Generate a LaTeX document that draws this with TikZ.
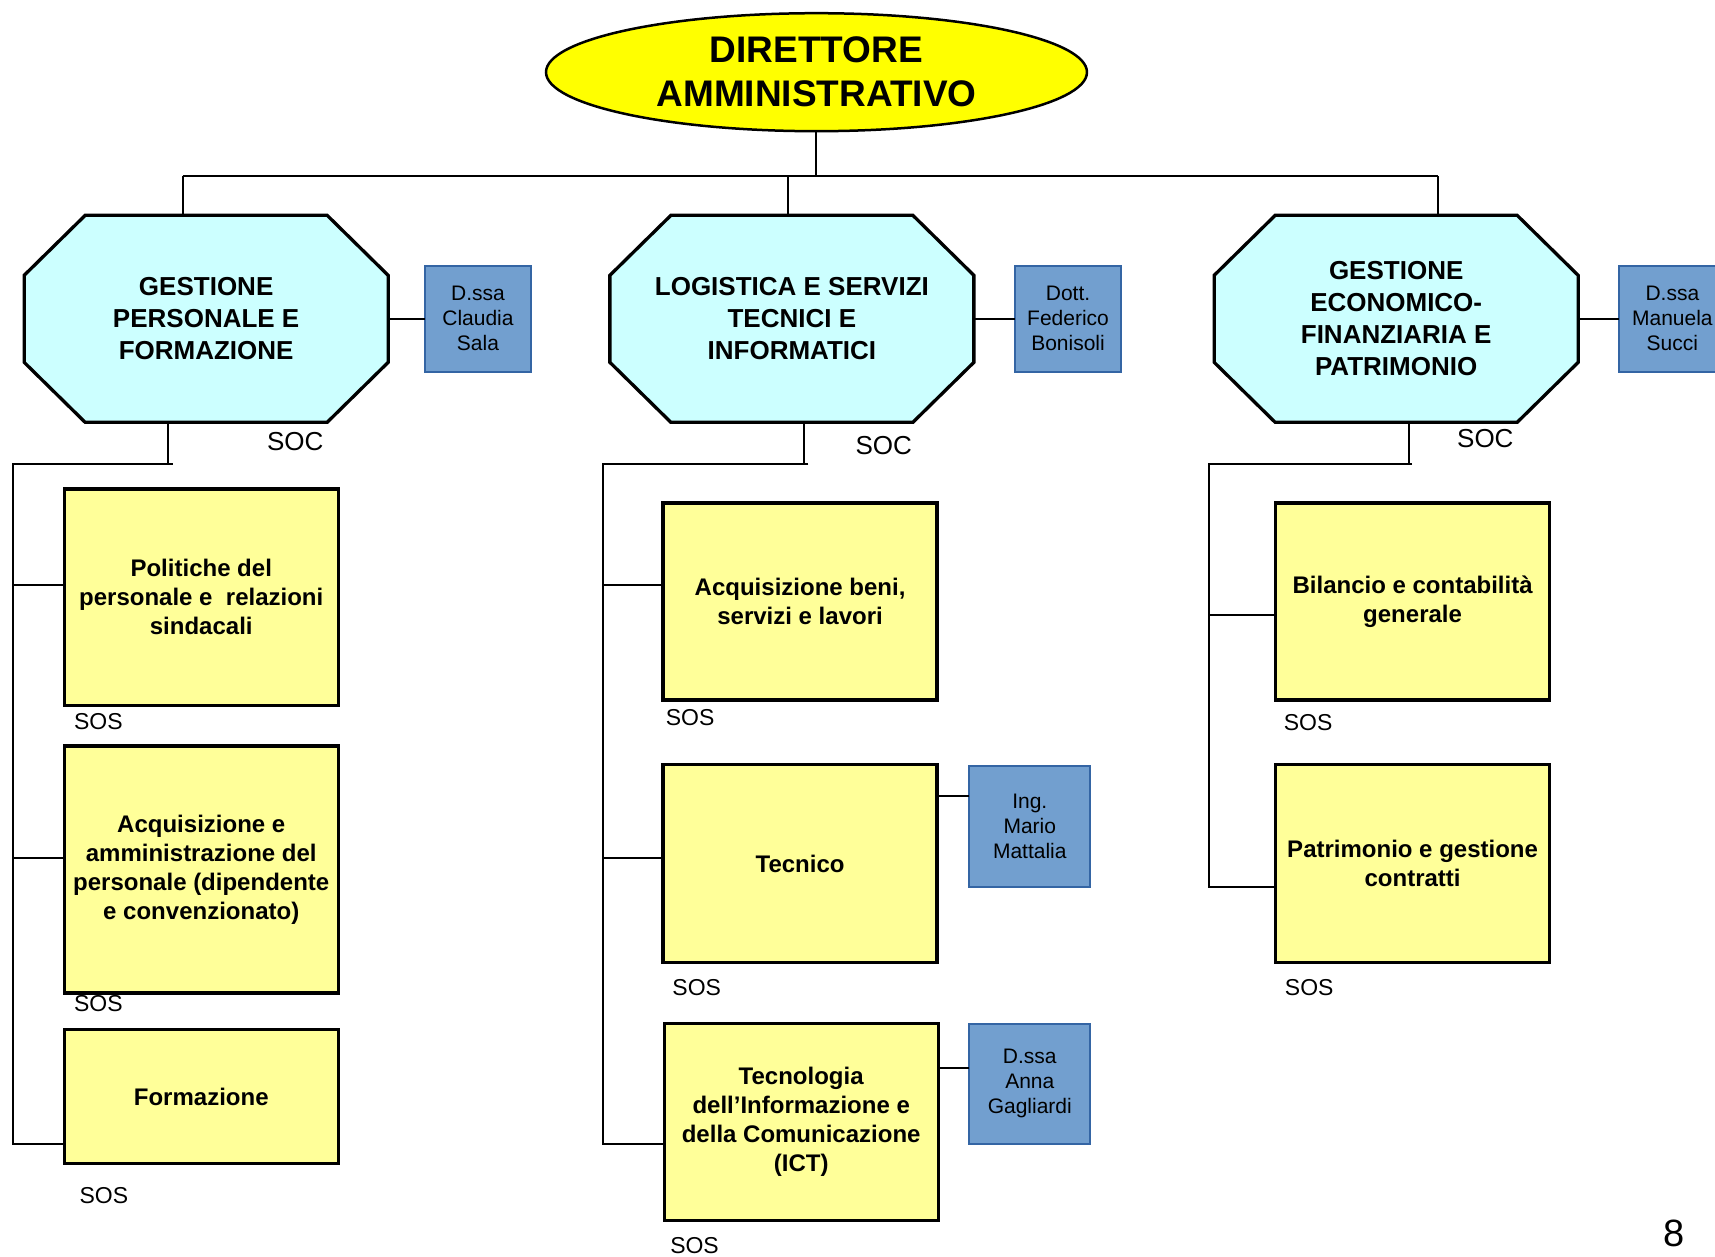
\documentclass[tikz,border=0pt]{standalone}
\usepackage{fontspec}
\setmainfont{Liberation Sans}
\usetikzlibrary{shapes.geometric,calc,backgrounds}
\definecolor{ellc}{HTML}{FFFF00}
\definecolor{octc}{HTML}{CCFFFF}
\definecolor{yelc}{HTML}{FFFF99}
\definecolor{bfill}{HTML}{729FCF}
\definecolor{bdraw}{HTML}{3465A4}
\newcommand\octpath[1]{%
  \draw[octo] ([xshift=61pt]#1.north west) -- ([xshift=-61pt]#1.north east)
   -- ([yshift=-60pt]#1.north east) -- ([yshift=60pt]#1.south east)
   -- ([xshift=-61pt]#1.south east) -- ([xshift=61pt]#1.south west)
   -- ([yshift=60pt]#1.south west) -- ([yshift=-60pt]#1.north west) -- cycle;}
\begin{document}
\begin{tikzpicture}[x=1.0938pt,y=-1.0938pt,
  conn/.style={line width=2pt},
  octo/.style={draw=black,fill=octc,line width=3.3pt,line join=miter},
  octn/.style={rectangle,inner sep=0pt,outer sep=0pt,align=center,
    minimum width=364pt,minimum height=207pt,
    font=\fontsize{26}{32}\selectfont\bfseries},
  ybox/.style={rectangle,draw=black,fill=yelc,line width=3.3pt,inner sep=0pt,
    outer sep=0pt,align=center,minimum width=274pt,
    font=\fontsize{24}{29}\selectfont\bfseries},
  pbox/.style={rectangle,draw=bdraw,fill=bfill,line width=2pt,inner sep=0pt,
    outer sep=0pt,align=center,font=\fontsize{21}{25}\selectfont},
  lab/.style={inner sep=0pt,font=\fontsize{23}{26}\selectfont},
  socl/.style={inner sep=0pt,font=\fontsize{26}{30}\selectfont}]
\useasboundingbox (0,0) rectangle (1568,1149);
\clip (0,0) rectangle (1568,1149);

% top
\node[ellipse,draw=black,fill=ellc,line width=2.5pt,inner sep=0pt,outer sep=0pt,
  minimum width=541pt,minimum height=118pt,align=center,
  font=\fontsize{37}{44}\selectfont\bfseries] (dir) at (746.5,66) {DIRETTORE\\AMMINISTRATIVO};

% octagons
\node[octn] (o1) at (188.5,291.5) {GESTIONE\\PERSONALE E\\FORMAZIONE};
\node[octn] (o2) at (724,291.5) {LOGISTICA E SERVIZI\\TECNICI E\\INFORMATICI};
\node[octn] (o3) at (1276.5,291.5) {GESTIONE\\ECONOMICO-\\FINANZIARIA E\\PATRIMONIO};
\begin{scope}[on background layer]
\fill[white] (0,0) rectangle (1568,1149);
\octpath{o1}\octpath{o2}\octpath{o3}
\end{scope}

% bus
\coordinate (busL) at (167,161);
\coordinate (busM) at (720,161);
\coordinate (busR) at (1315,161);
\draw[conn] (dir.south) -- (dir.south |- busL);
\draw[conn] (busL) -- (busR);
\draw[conn] (busL) -- (busL |- o1.north);
\draw[conn] (busM) -- (busM |- o2.north);
\draw[conn] (busR) -- (busR |- o3.north);

% people boxes
\node[pbox,minimum width=106pt,minimum height=106pt] (b1) at (437,291.5) {D.ssa\\Claudia\\Sala};
\node[pbox,minimum width=106pt,minimum height=106pt] (b2) at (976.5,291.5) {Dott.\\Federico\\Bonisoli};
\node[pbox,minimum width=106pt,minimum height=106pt] (b3) at (1529,291.5) {D.ssa\\Manuela\\Succi};
\node[pbox,minimum width=121pt,minimum height=121pt] (b4) at (941.5,755.5) {Ing.\\Mario\\Mattalia};
\node[pbox,minimum width=121pt,minimum height=120pt] (b5) at (941.5,991) {D.ssa\\Anna\\Gagliardi};
\draw[conn] (o1.east) -- (b1.west);
\draw[conn] (o2.east) -- (b2.west);
\draw[conn] (o3.east) -- (b3.west);

% SOS boxes
\node[ybox,minimum height=216.6pt] (y1) at (184,546) {Politiche del\\personale e\ \ relazioni\\sindacali};
\node[ybox,minimum height=247pt] (y2) at (184,795) {Acquisizione e\\amministrazione del\\personale (dipendente\\e convenzionato)};
\node[ybox,minimum height=134.5pt] (y3) at (184,1002.5) {Formazione};
\node[ybox,minimum height=197pt] (y4) at (731.5,550) {Acquisizione beni,\\servizi e lavori};
\node[ybox,minimum height=198pt] (y5) at (731.5,789.5) {Tecnico};
\node[ybox,minimum height=197pt] (y6) at (732.5,1026) {Tecnologia\\dell’Informazione e\\della Comunicazione\\(ICT)};
\node[ybox,minimum height=197pt] (y7) at (1291.5,550) {Bilancio e contabilità\\generale};
\node[ybox,minimum height=198pt] (y8) at (1291.5,789.5) {Patrimonio e gestione\\contratti};

\coordinate (k4) at ($(b4.north west)!0.25!(b4.south west)$);
\coordinate (k5) at ($(b5.north west)!0.37!(b5.south west)$);
\draw[conn] (k4) -- (k4 -| y5.east);
\draw[conn] (k5) -- (k5 -| y6.east);

% tree left
\coordinate (j1) at (154,424);
\coordinate (t1) at (12,424);
\coordinate (t1e) at (158,424);
\coordinate (l1) at (12,535);
\coordinate (l2) at (12,784);
\coordinate (l3) at (12,1046);
\draw[conn] (o1.south -| j1) -- (j1);
\draw[conn] (t1e) -- (t1) -- (l3) -- (l3 -| y3.west);
\draw[conn] (l1) -- (l1 -| y1.west);
\draw[conn] (l2) -- (l2 -| y2.west);

% tree middle
\coordinate (j2) at (735,424);
\coordinate (t2) at (551,424);
\coordinate (t2e) at (739,424);
\coordinate (m1) at (551,535);
\coordinate (m2) at (551,784);
\coordinate (m3) at (551,1046);
\draw[conn] (o2.south -| j2) -- (j2);
\draw[conn] (t2e) -- (t2) -- (m3) -- (m3 -| y6.west);
\draw[conn] (m1) -- (m1 -| y4.west);
\draw[conn] (m2) -- (m2 -| y5.west);

% tree right
\coordinate (j3) at (1288,424);
\coordinate (t3) at (1105,424);
\coordinate (t3e) at (1291,424);
\coordinate (r1) at (1105,562);
\coordinate (r2) at (1105,811);
\draw[conn] (o3.south -| j3) -- (j3);
\draw[conn] (t3e) -- (t3) -- (r2) -- (r2 -| y8.west);
\draw[conn] (r1) -- (r1 -| y7.west);

% labels
\node[socl] (soc1) at (270,404) {SOC};
\node[socl] (soc2) at (808,407) {SOC};
\node[socl] (soc3) at (1358,401) {SOC};
\node[lab] (sos1) at (90,660) {SOS};
\node[lab] (sos2) at (90,918) {SOS};
\node[lab] (sos3) at (95,1093) {SOS};
\node[lab] (sos4) at (631,656) {SOS};
\node[lab] (sos5) at (637,903) {SOS};
\node[lab] (sos6) at (635,1139) {SOS};
\node[lab] (sos7) at (1196,661) {SOS};
\node[lab] (sos8) at (1197,903) {SOS};
\node[inner sep=0pt,font=\fontsize{38}{42}\selectfont] (pg) at (1531,1128) {8};
\end{tikzpicture}
\end{document}
